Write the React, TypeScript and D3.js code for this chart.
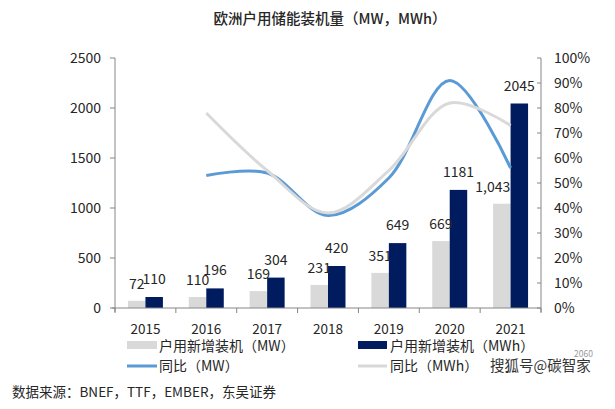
import * as d3 from 'd3';

const years = ['2015', '2016', '2017', '2018', '2019', '2020', '2021'];
const mwValues = [72, 110, 169, 231, 351, 669, 1043];
const mwhValues = [110, 196, 304, 420, 649, 1181, 2045];
const mwLabels = ['72', '110', '169', '231', '351', '669', '1,043'];
const mwhLabels = ['110', '196', '304', '420', '649', '1181', '2045'];
const growthYears = ['2016', '2017', '2018', '2019', '2020', '2021'];
const mwGrowth = [0.53, 0.54, 0.37, 0.52, 0.91, 0.56];
const mwhGrowth = [0.78, 0.55, 0.38, 0.55, 0.82, 0.73];
const leftTicks = [0, 500, 1000, 1500, 2000, 2500];
const rightTicks = [0, 0.1, 0.2, 0.3, 0.4, 0.5, 0.6, 0.7, 0.8, 0.9, 1];

const FONT = '"Noto Sans CJK SC", "Noto Sans", sans-serif';
const TEXT = '#262626';
const AXIS = '#868686';
const GRAY = '#d9d9d9';
const NAVY = '#001b5e';
const BLUE = '#5b9bd5';
const GRAY_LINE = '#d9d9d9';

export default function App() {
  const width = 615;
  const height = 409;
  const plot = { left: 115, right: 541, top: 58, bottom: 308 };

  const x = d3.scaleBand().domain(years).range([plot.left, plot.right]).padding(0);
  const sub = d3
    .scaleBand()
    .domain(['mw', 'mwh'])
    .range([0, x.bandwidth()])
    .paddingInner(0)
    .paddingOuter(0.74);
  const yL = d3.scaleLinear().domain([0, 2500]).range([plot.bottom, plot.top]);
  const yR = d3.scaleLinear().domain([0, 1]).range([plot.bottom, plot.top]);
  const cx = (yr: string) => x(yr)! + x.bandwidth() / 2;

  const line = d3
    .line<[string, number]>()
    .x((d) => cx(d[0]))
    .y((d) => yR(d[1]))
    .curve(d3.curveCatmullRom.alpha(0.5));

  const mwPath = line(growthYears.map((yr, i) => [yr, mwGrowth[i]]))!;
  const mwhPath = line(growthYears.map((yr, i) => [yr, mwhGrowth[i]]))!;

  const boundaries = [...years.map((yr) => x(yr)!), plot.right];

  // the wide last gray label sits a little left of its bar
  const mwLabelShift = (i: number) => (i === years.length - 1 ? -9 : 0);

  return (
    <svg
      width={width}
      height={height}
      style={{ position: 'absolute', left: 0, top: 0, background: '#fff' }}
      fontFamily={FONT}
    >
      <text x={330} y={24} textAnchor="middle" fontSize={14.5} fontWeight={500} fill={TEXT}>
        欧洲户用储能装机量（MW，MWh）
      </text>

      {/* bars */}
      {years.map((yr, i) => (
        <g key={yr}>
          <rect
            x={x(yr)! + sub('mw')!}
            y={yL(mwValues[i])}
            width={sub.bandwidth()}
            height={plot.bottom - yL(mwValues[i])}
            fill={GRAY}
          />
          <rect
            x={x(yr)! + sub('mwh')!}
            y={yL(mwhValues[i])}
            width={sub.bandwidth()}
            height={plot.bottom - yL(mwhValues[i])}
            fill={NAVY}
          />
        </g>
      ))}

      {/* left axis */}
      <line x1={plot.left} x2={plot.left} y1={plot.top} y2={plot.bottom + 4} stroke={AXIS} />
      {leftTicks.map((t) => (
        <g key={t}>
          <line x1={plot.left - 5} x2={plot.left} y1={yL(t)} y2={yL(t)} stroke={AXIS} />
          <text x={101} y={yL(t) + 5} textAnchor="end" fontSize={14} fill={TEXT}>
            {t}
          </text>
        </g>
      ))}

      {/* right axis */}
      <line x1={plot.right} x2={plot.right} y1={plot.top} y2={plot.bottom + 4} stroke={AXIS} />
      {rightTicks.map((t) => (
        <g key={t}>
          <line x1={plot.right - 4} x2={plot.right} y1={yR(t)} y2={yR(t)} stroke={AXIS} />
          <text x={554} y={yR(t) + 5} fontSize={14} fill={TEXT}>
            {d3.format('.0%')(t)}
          </text>
        </g>
      ))}

      {/* x axis */}
      <line x1={plot.left - 3} x2={plot.right} y1={plot.bottom} y2={plot.bottom} stroke={AXIS} />
      {boundaries.map((b, i) => (
        <line key={i} x1={b} x2={b} y1={plot.bottom} y2={plot.bottom + 5} stroke={AXIS} />
      ))}
      {years.map((yr) => (
        <text key={yr} x={cx(yr)} y={333.5} textAnchor="middle" fontSize={13.5} fill={TEXT}>
          {yr}
        </text>
      ))}

      {/* growth lines */}
      <path d={mwPath} fill="none" stroke={BLUE} strokeWidth={3} />
      <path d={mwhPath} fill="none" stroke={GRAY_LINE} strokeWidth={3} />

      {/* bar labels */}
      {years.map((yr, i) => (
        <g key={yr}>
          <text
            x={x(yr)! + sub('mw')! + sub.bandwidth() / 2 + mwLabelShift(i)}
            y={yL(mwValues[i]) - 12}
            textAnchor="middle"
            fontSize={14}
            fill={TEXT}
          >
            {mwLabels[i]}
          </text>
          <text
            x={x(yr)! + sub('mwh')! + sub.bandwidth() / 2}
            y={yL(mwhValues[i]) - 13}
            textAnchor="middle"
            fontSize={14}
            fill={TEXT}
          >
            {mwhLabels[i]}
          </text>
        </g>
      ))}

      {/* legend */}
      <rect x={127} y={341} width={30} height={8} fill={GRAY} />
      <text x={159} y={350.5} fontSize={14} fill={TEXT}>
        户用新增装机（MW）
      </text>
      <rect x={358} y={341} width={29} height={8} fill={NAVY} />
      <text x={390} y={350.5} fontSize={14} fill={TEXT}>
        户用新增装机（MWh）
      </text>
      <line x1={127} x2={157} y1={366} y2={366} stroke={BLUE} strokeWidth={3} />
      <text x={159} y={371} fontSize={14} fill={TEXT}>
        同比（MW）
      </text>
      <line x1={358} x2={387} y1={366} y2={366} stroke={GRAY_LINE} strokeWidth={3} />
      <text x={390} y={371} fontSize={14} fill={TEXT}>
        同比（MWh）
      </text>

      {/* watermark */}
      <text x={490} y={371} fontSize={14.5} fill="#333">
        搜狐号@碳智家
      </text>
      <text x={574} y={357} fontSize={8.5} fill="#999">
        2060
      </text>

      <text x={12} y={397} fontSize={13.5} fill={TEXT}>
        数据来源：BNEF，TTF，EMBER，东吴证券
      </text>
    </svg>
  );
}
